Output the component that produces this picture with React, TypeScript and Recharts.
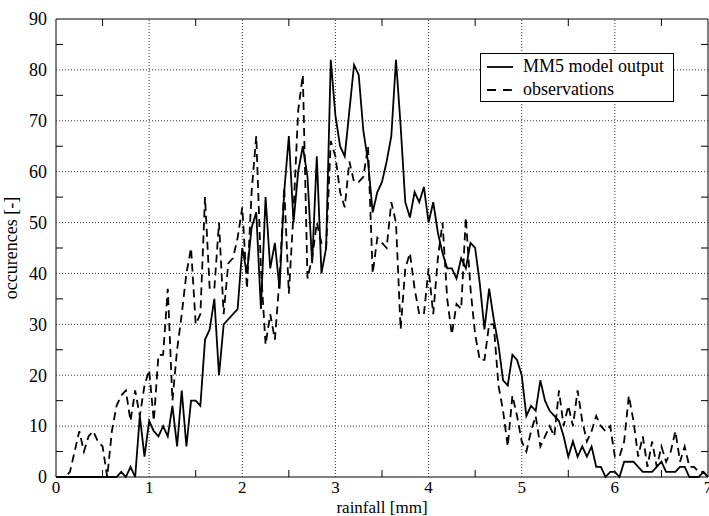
import { LineChart, Line, XAxis, YAxis, ReferenceLine, ReferenceArea, Legend } from 'recharts';

// rainfall bins [mm]
const rainfall = [
  0, 0.05, 0.1, 0.15, 0.2, 0.25, 0.3, 0.35, 0.4, 0.45, 0.5, 0.55, 0.6, 0.65, 0.7, 0.75, 0.8, 0.85, 0.9, 0.95,
  1, 1.05, 1.1, 1.15, 1.2, 1.25, 1.3, 1.35, 1.4, 1.45, 1.5, 1.55, 1.6, 1.65, 1.7, 1.75, 1.8, 1.85, 1.9, 1.95,
  2, 2.05, 2.1, 2.15, 2.2, 2.25, 2.3, 2.35, 2.4, 2.45, 2.5, 2.55, 2.6, 2.65, 2.7, 2.75, 2.8, 2.85, 2.9, 2.95,
  3, 3.05, 3.1, 3.15, 3.2, 3.25, 3.3, 3.35, 3.4, 3.45, 3.5, 3.55, 3.6, 3.65, 3.7, 3.75, 3.8, 3.85, 3.9, 3.95,
  4, 4.05, 4.1, 4.15, 4.2, 4.25, 4.3, 4.35, 4.4, 4.45, 4.5, 4.55, 4.6, 4.65, 4.7, 4.75, 4.8, 4.85, 4.9, 4.95,
  5, 5.05, 5.1, 5.15, 5.2, 5.25, 5.3, 5.35, 5.4, 5.45, 5.5, 5.55, 5.6, 5.65, 5.7, 5.75, 5.8, 5.85, 5.9, 5.95,
  6, 6.05, 6.1, 6.15, 6.2, 6.25, 6.3, 6.35, 6.4, 6.45, 6.5, 6.55, 6.6, 6.65, 6.7, 6.75, 6.8, 6.85, 6.9, 6.95,
  7,
];

const mm5 = [
  0, 0, 0, 0, 0, 0, 0, 0, 0, 0, 0, 0, 0, 0, 1, 0, 2, 0, 12, 4,
  11, 9, 8, 10, 8, 14, 6, 17, 6, 15, 15, 14, 27, 29, 35, 20, 30, 31, 32, 33,
  45, 40, 49, 52, 33, 55, 41, 46, 37, 56, 67, 50, 60, 65, 59, 42, 63, 40, 45, 82,
  71, 65, 63, 72, 81, 79, 68, 62, 52, 56, 58, 62, 67, 82, 69, 54, 51, 56, 54, 57,
  50, 54, 48, 44, 41, 41, 39, 43, 41, 46, 45, 38, 29, 37, 31, 26, 19, 18, 24, 23,
  20, 12, 14, 13, 19, 15, 13, 12, 11, 8, 4, 7, 4, 6, 4, 6, 2, 2, 0, 1,
  1, 0, 3, 3, 3, 2, 1, 1, 1, 2, 3, 1, 1, 1, 2, 2, 0, 0, 0, 1,
  0,
];

const observations = [
  0, 0, 0, 1, 5, 9, 5, 8, 9, 7, 6, 0, 9, 14, 16, 17, 11, 17, 12, 18,
  21, 11, 24, 24, 37, 15, 25, 32, 40, 45, 30, 32, 55, 37, 37, 50, 32, 42, 43, 47,
  53, 37, 56, 67, 41, 26, 32, 27, 39, 57, 36, 52, 72, 79, 39, 43, 50, 46, 45, 66,
  63, 56, 53, 62, 58, 58, 59, 65, 40, 47, 46, 45, 54, 50, 29, 41, 44, 37, 32, 32,
  41, 32, 43, 50, 35, 28, 34, 33, 51, 37, 28, 23, 23, 30, 30, 18, 13, 6, 16, 12,
  7, 5, 9, 12, 6, 8, 10, 8, 17, 10, 14, 10, 17, 11, 7, 9, 12, 10, 9, 10,
  4, 4, 7, 16, 11, 4, 8, 2, 7, 2, 6, 3, 5, 9, 3, 6, 2, 2, 1, 1,
  0,
];

const xTicks = [0, 0.5, 1, 1.5, 2, 2.5, 3, 3.5, 4, 4.5, 5, 5.5, 6, 6.5, 7];
const yTicks = [0, 5, 10, 15, 20, 25, 30, 35, 40, 45, 50, 55, 60, 65, 70, 75, 80, 85, 90];
const xGrid = [1, 2, 3, 4, 5, 6];
const yGrid = [10, 20, 30, 40, 50, 60, 70, 80];

const data = rainfall.map((r, i) => ({ rainfall: r, mm5: mm5[i], obs: observations[i] }));

const W = 709;
const H = 516;
const TOP = 19;
const RIGHT = 1;
const Y_AXIS_W = 56;
const X_AXIS_H = 39;
const PLOT_TOP = TOP;
const PLOT_BOTTOM = H - X_AXIS_H;
const PLOT_LEFT = Y_AXIS_W;
const PLOT_RIGHT = W - RIGHT;
const TICK = 7;
const FS = 18;
const FS_X = 17;
const FONT = '"Liberation Serif", "Times New Roman", serif';

const XTick = (props: any) => {
  const { x, payload } = props;
  const v = payload.value;
  if (Number.isInteger(v)) {
    return (
      <text x={x} y={PLOT_BOTTOM + 16} textAnchor="middle" fontSize={FS_X} fontFamily={FONT} fill="#000">
        {v}
      </text>
    );
  }
  return (
    <g stroke="#000" strokeWidth={1}>
      <line x1={x} x2={x} y1={PLOT_BOTTOM} y2={PLOT_BOTTOM - TICK} />
      <line x1={x} x2={x} y1={PLOT_TOP} y2={PLOT_TOP + TICK} />
    </g>
  );
};

const YTick = (props: any) => {
  const { y, payload } = props;
  const v = payload.value;
  if (v % 10 === 0) {
    return (
      <text x={PLOT_LEFT - 9} y={y} dy="0.35em" textAnchor="end" fontSize={FS} fontFamily={FONT} fill="#000">
        {v}
      </text>
    );
  }
  return (
    <g stroke="#000" strokeWidth={1}>
      <line x1={PLOT_LEFT} x2={PLOT_LEFT + TICK} y1={y} y2={y} />
      <line x1={PLOT_RIGHT} x2={PLOT_RIGHT - TICK} y1={y} y2={y} />
    </g>
  );
};

const LegendBox = () => (
  <div
    style={{
      boxSizing: 'border-box',
      width: 194,
      height: 49,
      border: '1px solid #000',
      background: '#fff',
      padding: '1px 0 0 6px',
      fontFamily: FONT,
      fontSize: FS,
      color: '#000',
    }}
  >
    {[
      { name: 'MM5 model output', dash: undefined },
      { name: 'observations', dash: '9 7' },
    ].map((item) => (
      <div key={item.name} style={{ display: 'flex', alignItems: 'center', height: 23 }}>
        <svg width={27} height={10} style={{ marginRight: 9 }}>
          <line x1={0} x2={26} y1={5} y2={5} stroke="#000" strokeWidth={1.8} strokeDasharray={item.dash} />
        </svg>
        <span>{item.name}</span>
      </div>
    ))}
  </div>
);

export default function App() {
  return (
    <div style={{ position: 'absolute', left: 0, top: 0, background: '#fff' }}>
      <LineChart width={W} height={H} data={data} margin={{ top: TOP, right: RIGHT, bottom: 0, left: 0 }}>
        <XAxis
          dataKey="rainfall"
          type="number"
          domain={[0, 7]}
          ticks={xTicks}
          interval={0}
          height={X_AXIS_H}
          axisLine={false}
          tickLine={false}
          tickSize={0}
          tick={<XTick />}
          label={{
            value: 'rainfall [mm]',
            content: () => (
              <text x={(PLOT_LEFT + PLOT_RIGHT) / 2} y={H - 3.5} textAnchor="middle" fontSize={FS_X} fontFamily={FONT} fill="#000">
                rainfall [mm]
              </text>
            ),
          }}
        />
        <YAxis
          type="number"
          domain={[0, 90]}
          ticks={yTicks}
          interval={0}
          width={Y_AXIS_W}
          axisLine={false}
          tickLine={false}
          tickSize={0}
          tick={<YTick />}
          label={{
            value: 'occurences [-]',
            content: () => {
              const cy = (PLOT_TOP + PLOT_BOTTOM) / 2;
              return (
                <text
                  x={17}
                  y={cy}
                  transform={`rotate(-90, 17, ${cy})`}
                  textAnchor="middle"
                  fontSize={FS}
                  fontFamily={FONT}
                  fill="#000"
                >
                  occurences [-]
                </text>
              );
            },
          }}
        />
        {xGrid.map((v) => (
          <ReferenceLine key={`vx${v}`} x={v} stroke="#333" strokeDasharray="1 2" />
        ))}
        {yGrid.map((v) => (
          <ReferenceLine key={`hy${v}`} y={v} stroke="#333" strokeDasharray="1 2" />
        ))}
        <ReferenceArea x1={0} x2={7} y1={0} y2={90} fill="none" stroke="#000" strokeWidth={1} />
        <Line
          type="linear"
          dataKey="mm5"
          name="MM5 model output"
          stroke="#000"
          strokeWidth={1.8}
          dot={false}
          activeDot={false}
          isAnimationActive={false}
        />
        <Line
          type="linear"
          dataKey="obs"
          name="observations"
          stroke="#000"
          strokeWidth={1.8}
          strokeDasharray="8 5"
          dot={false}
          activeDot={false}
          isAnimationActive={false}
        />
        <Legend
          layout="horizontal"
          align="center"
          verticalAlign="middle"
          content={<LegendBox />}
          wrapperStyle={{ left: 480, top: 53, width: 194, height: 49 }}
        />
      </LineChart>
    </div>
  );
}
